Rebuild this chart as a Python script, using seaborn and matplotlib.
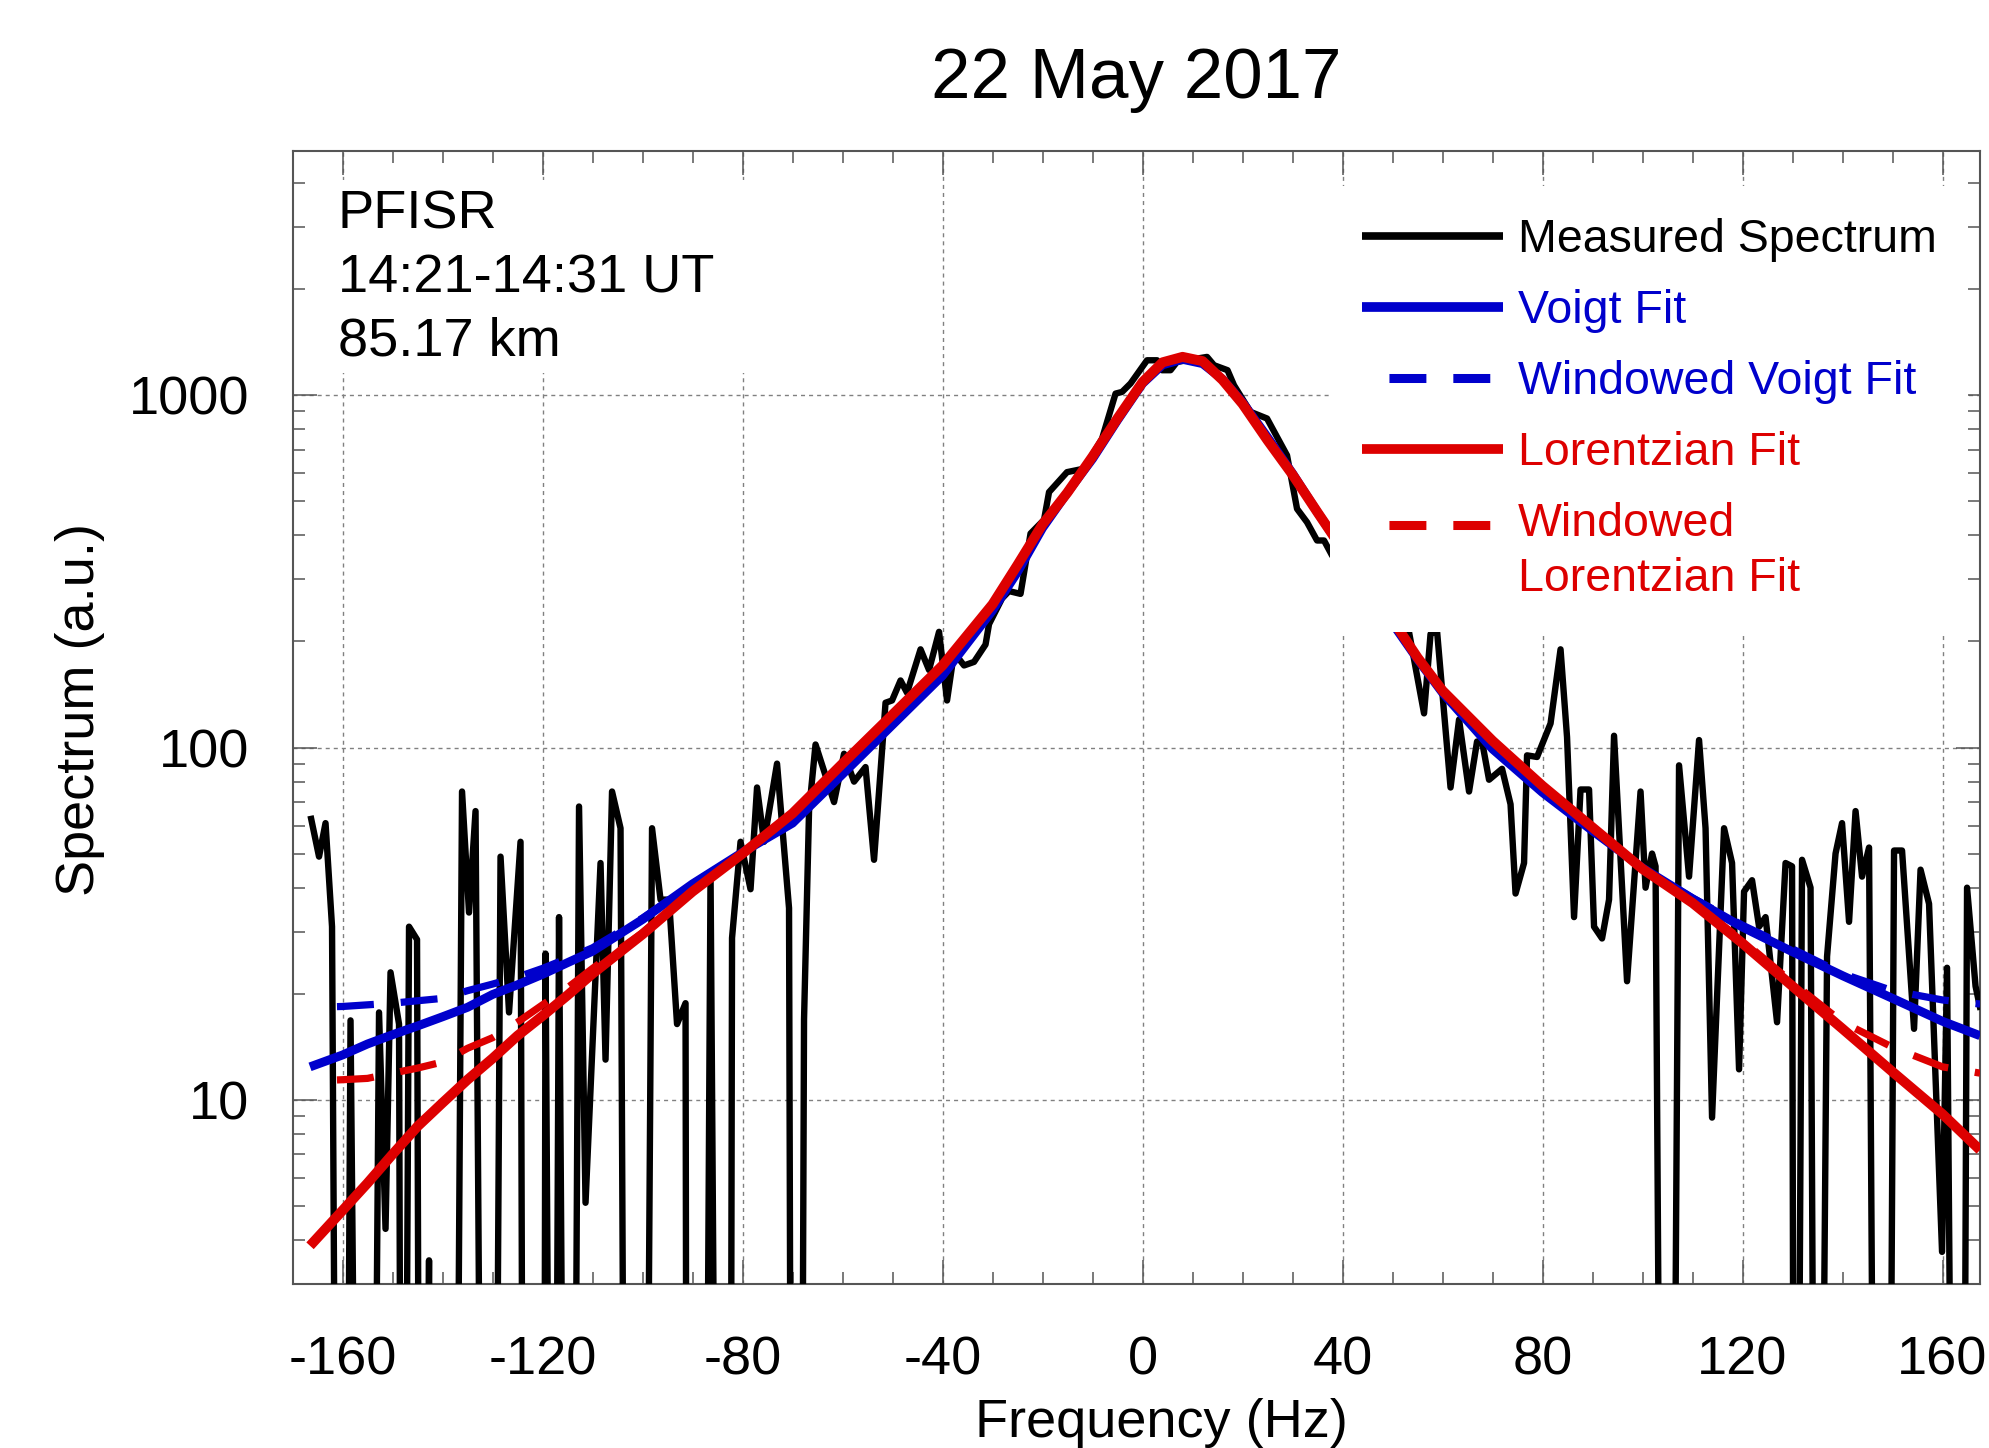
import numpy as np
import matplotlib
matplotlib.use('Agg')
import matplotlib.pyplot as plt
from matplotlib.patches import Rectangle
from matplotlib.ticker import MultipleLocator, LogLocator, NullFormatter
from matplotlib.legend_handler import HandlerLine2D
import seaborn as sns
import pandas as pd

# value used for the points that drop off the bottom of the log axis
LOW = 0.01

# measured spectrum (Hz, a.u.)
meas_freq = [-166.4, -164.7, -163.4, -162.1, -160.7, -159.7, -158.4, -156.3, -154.5, -152.7,
             -151.4, -150.4, -148.7, -148.0, -146.7, -145.1, -144.3, -142.7, -142.0, -137.9,
             -136.1, -134.7, -133.4, -131.5, -130.0, -128.4, -126.7, -124.4, -123.6, -119.9,
             -119.4, -117.9, -116.7, -115.0, -114.2, -112.7, -111.4, -108.4, -107.4, -106.1,
             -104.4, -103.1, -99.9, -98.1, -96.4, -94.7, -93.1, -91.4, -91.0, -87.9,
             -86.4, -84.6, -82.6, -82.1, -80.4, -78.4, -77.1, -75.7, -73.1, -70.7,
             -70.0, -68.6, -67.7, -66.7, -65.4, -61.7, -59.7, -57.7, -55.4, -53.7,
             -51.4, -50.1, -48.4, -47.1, -44.4, -42.7, -40.7, -39.1, -37.7, -35.7,
             -33.7, -31.4, -30.7, -28.1, -26.7, -24.4, -22.4, -19.7, -18.7, -15.1,
             -11.7, -8.1, -5.4, -4.1, -2.4, 0.9, 2.9, 3.9, 5.6, 6.9,
             8.9, 12.9, 14.3, 17.0, 18.3, 21.6, 24.9, 28.9, 30.9, 32.9,
             34.9, 36.3, 37.9, 40.5, 43.0, 46.0, 49.0, 52.9, 56.3, 57.6,
             58.9, 61.6, 63.3, 65.3, 66.9, 67.9, 69.3, 71.9, 73.6, 74.6,
             76.3, 76.9, 78.9, 81.6, 83.6, 84.9, 86.3, 87.6, 89.3, 90.3,
             91.9, 93.3, 94.3, 96.9, 99.6, 100.6, 101.9, 102.6, 104.3, 105.5,
             107.3, 109.3, 111.3, 112.6, 113.9, 116.3, 117.9, 119.3, 120.3, 121.9,
             123.3, 124.6, 126.9, 128.6, 129.9, 130.5, 131.9, 133.6, 134.9, 136.9,
             138.6, 139.9, 141.3, 142.6, 143.9, 145.3, 147.0, 148.8, 150.3, 151.9,
             154.3, 155.6, 157.3, 159.9, 160.9, 162.8, 163.8, 164.9, 166.6, 167.6]
meas_spec = [64, 49, 61, 31, LOW, LOW, 16.8, LOW, LOW, 17.7,
             4.3, 23, 16.4, LOW, 31, 28.5, LOW, 3.5, LOW, LOW,
             75, 34, 66, LOW, LOW, 49, 17.7, 54, LOW, LOW,
             26, LOW, 33, LOW, LOW, 68, 5.1, 47, 13, 75,
             59, LOW, LOW, 59, 37, 37, 16.4, 18.8, LOW, LOW,
             44, LOW, LOW, 28.8, 54, 39.6, 77, 54, 90, 35,
             LOW, LOW, 16.9, 66, 102, 70, 96, 80, 88, 48,
             134, 136, 155, 143, 190, 166, 213, 136, 186, 171,
             175, 196, 224, 265, 278, 273, 405, 443, 531, 605,
             619, 753, 1011, 1022, 1080, 1257, 1257, 1178, 1178, 1244,
             1257, 1285, 1217, 1178, 1067, 897, 859, 675, 476, 436,
             387, 387, 351, 320, 290, 250, 235, 228, 125, 210,
             214, 77, 120, 75, 104, 104, 81, 87, 69, 38.5,
             47, 95, 94, 117, 190, 107, 33, 76, 76, 31,
             28.7, 37, 108, 21.7, 75, 40, 50, 46, LOW, LOW,
             89, 43, 105, 59, 8.9, 59, 47, 12.2, 39, 42,
             31, 33, 16.6, 47, 46, LOW, 48, 40, LOW, 25.5,
             50, 61, 32, 66, 43, 52, LOW, LOW, 51, 51,
             15.9, 45, 36, 3.7, 23.7, LOW, LOW, 40, 21, 18]

# fitted curves
fit_freq = [-166.5, -160, -155, -150, -145, -140, -135, -130, -125, -120,
            -115, -110, -100, -90, -80, -70, -60, -50, -40, -30,
            -25, -20, -15, -10, -5, 0, 4, 8, 12, 16,
            20, 25, 30, 35, 40, 45, 50, 55, 60, 70,
            80, 90, 100, 110, 120, 130, 140, 150, 160, 167.5]
voigt_fit = [12.4, 13.4, 14.4, 15.3, 16.2, 17.2, 18.3, 19.9, 21.2, 22.7,
             24.5, 26.4, 32.5, 41, 50.4, 61, 84, 116, 160, 245,
             315, 420, 530, 660, 850, 1080, 1220, 1265, 1230, 1110,
             955, 760, 600, 465, 365, 290, 225, 178, 143, 99,
             74.5, 58, 45.5, 37.2, 30.9, 26.3, 22.5, 19.4, 16.7, 15.2]
voigt_windowed = [18.3, 18.4, 18.6, 18.8, 19.1, 19.4, 20.4, 21.3, 22.3, 23.6,
                  25.2, 27.0, 32.8, 41, 50.4, 61, 84, 116, 160, 245,
                  315, 420, 530, 660, 850, 1080, 1220, 1265, 1230, 1110,
                  955, 760, 600, 465, 365, 290, 225, 178, 143, 99,
                  74.5, 58, 45.5, 37.4, 31.3, 26.8, 22.8, 20.4, 19.2, 18.7]
lorentz_fit = [3.85, 4.85, 5.8, 7.0, 8.4, 9.8, 11.4, 13.1, 15.2, 17.3,
               19.8, 22.8, 29.5, 39, 50, 65, 90, 124, 171, 255,
               330, 430, 530, 670, 860, 1090, 1240, 1285, 1250, 1105,
               945, 745, 595, 465, 365, 290, 230, 180, 145, 104.5,
               77.8, 59.3, 45.2, 36.2, 27.8, 21, 15.9, 12, 9.1, 7.2]
lorentz_windowed = [11.3, 11.4, 11.5, 11.9, 12.3, 12.8, 14.0, 15.0, 16.6, 18.6,
                    20.8, 23.6, 29.8, 39.3, 50, 65, 90, 124, 171, 255,
                    330, 430, 530, 670, 860, 1090, 1240, 1285, 1250, 1105,
                    945, 745, 595, 465, 365, 290, 230, 180, 145, 104.5,
                    77.8, 59.3, 45.5, 36.5, 28.3, 21.5, 16.6, 14.1, 12.4, 11.9]

x_ticks = [-160, -120, -80, -40, 0, 40, 80, 120, 160]
x_tick_labels = ['-160', '-120', '-80', '-40', '0', '40', '80', '120', '160']
y_ticks = [10, 100, 1000]
y_tick_labels = ['10', '100', '1000']

title = '22 May 2017'
info_lines = ['PFISR', '14:21-14:31 UT', '85.17 km']
legend_labels = ['Measured Spectrum', 'Voigt Fit', 'Windowed Voigt Fit',
                 'Lorentzian Fit', 'Windowed\nLorentzian Fit']

BLUE = '#0000cc'
RED = '#dd0000'
GREY = '#555555'

sns.set_style('ticks')
plt.rcParams['font.family'] = ['Liberation Sans', 'DejaVu Sans']
plt.rcParams['text.color'] = 'black'
plt.rcParams['axes.labelcolor'] = 'black'
plt.rcParams['lines.scale_dashes'] = False
plt.rcParams['lines.solid_capstyle'] = 'butt'
plt.rcParams['lines.dash_capstyle'] = 'butt'

# dash pattern in points: starts with a gap, like the original
win_dash = (26.6, (26.6, 19.4))


class FirstLineHandler(HandlerLine2D):
    """legend handle lifted to the first line of a two-line label"""
    def __init__(self, shift, **kw):
        super().__init__(**kw)
        self.shift = shift

    def create_artists(self, *args, **kwargs):
        artists = super().create_artists(*args, **kwargs)
        for a in artists:
            a.set_ydata(np.asarray(a.get_ydata(), dtype=float) + self.shift)
        return artists


meas = pd.DataFrame({'freq': meas_freq, 'spec': meas_spec})
fits = pd.DataFrame({'freq': fit_freq, 'voigt': voigt_fit, 'voigt_win': voigt_windowed,
                     'lor': lorentz_fit, 'lor_win': lorentz_windowed})

fig = plt.figure(figsize=(19.9, 14.48), dpi=100)
ax = fig.add_axes([0.147, 0.1133, 0.848, 0.7827])
ax.set_yscale('log')

sns.lineplot(data=meas, x='freq', y='spec', ax=ax, color='black', linewidth=4.6,
             estimator=None, errorbar=None, label=legend_labels[0], zorder=3)
sns.lineplot(data=fits, x='freq', y='voigt', ax=ax, color=BLUE, linewidth=6.4,
             estimator=None, errorbar=None, label=legend_labels[1], zorder=4)
sns.lineplot(data=fits, x='freq', y='voigt_win', ax=ax, color=BLUE, linewidth=5.2, linestyle=win_dash,
             estimator=None, errorbar=None, label=legend_labels[2], zorder=4.5)
sns.lineplot(data=fits, x='freq', y='lor', ax=ax, color=RED, linewidth=7.2,
             estimator=None, errorbar=None, label=legend_labels[3], zorder=5)
sns.lineplot(data=fits, x='freq', y='lor_win', ax=ax, color=RED, linewidth=5.2, linestyle=win_dash,
             estimator=None, errorbar=None, label=legend_labels[4], zorder=5.5)

ax.set_xlim(-170, 167.5)
ax.set_ylim(3, 4950)

ax.set_xticks(x_ticks, labels=x_tick_labels)
ax.xaxis.set_minor_locator(MultipleLocator(10))
ax.set_yticks(y_ticks, labels=y_tick_labels)
ax.yaxis.set_minor_locator(LogLocator(base=10, subs=range(2, 10), numticks=20))
ax.yaxis.set_minor_formatter(NullFormatter())

ax.tick_params(which='both', direction='in', top=True, right=True, color=GREY,
               labelcolor='black', width=1.1, labelsize=39)
ax.tick_params(which='major', length=17)
ax.tick_params(which='minor', length=8.6)
ax.tick_params(axis='x', pad=37)
ax.tick_params(axis='y', pad=31)
for sp in ax.spines.values():
    sp.set_color(GREY)
    sp.set_linewidth(1.5)

ax.set_axisbelow(True)
ax.grid(True, which='major', color='#808080', lw=1.0, linestyle=(0, (2.9, 2.9)))

ax.set_title(title, fontsize=51, pad=38)
ax.set_xlabel('Frequency (Hz)', fontsize=39, labelpad=9, x=0.515)
ax.set_ylabel('Spectrum (a.u.)', fontsize=39, labelpad=17, y=0.507)

# white box behind the run info, top left
ax.add_patch(Rectangle((0.017, 0.8038), 0.258, 0.1703, transform=ax.transAxes,
                       facecolor='white', edgecolor='none', zorder=1.5))
for txt, yb in zip(info_lines, [0.9309, 0.8745, 0.8189]):
    ax.text(0.0267, yb, txt, transform=ax.transAxes, fontsize=39,
            ha='left', va='baseline', zorder=6)

handles, labels = ax.get_legend_handles_labels()
leg = ax.legend(handles, labels, loc='upper left', bbox_to_anchor=(0.615, 0.9685),
                borderaxespad=0, frameon=True, fancybox=False, framealpha=1,
                facecolor='white', edgecolor='none', fontsize=33.5, handlelength=3.03,
                handletextpad=0.32, borderpad=0.68, labelspacing=0.58,
                handler_map={handles[4]: FirstLineHandler(19.8)})
leg.set_zorder(10)
for text, c in zip(leg.get_texts(), ['black', BLUE, BLUE, RED, RED]):
    text.set_color(c)
leg.get_texts()[4].set_linespacing(1.32)
for line, w in zip(leg.get_lines(), [5.5, 7, 6.5, 7, 6.5]):
    line.set_linewidth(w)

fig.savefig('out.png', dpi=100)
